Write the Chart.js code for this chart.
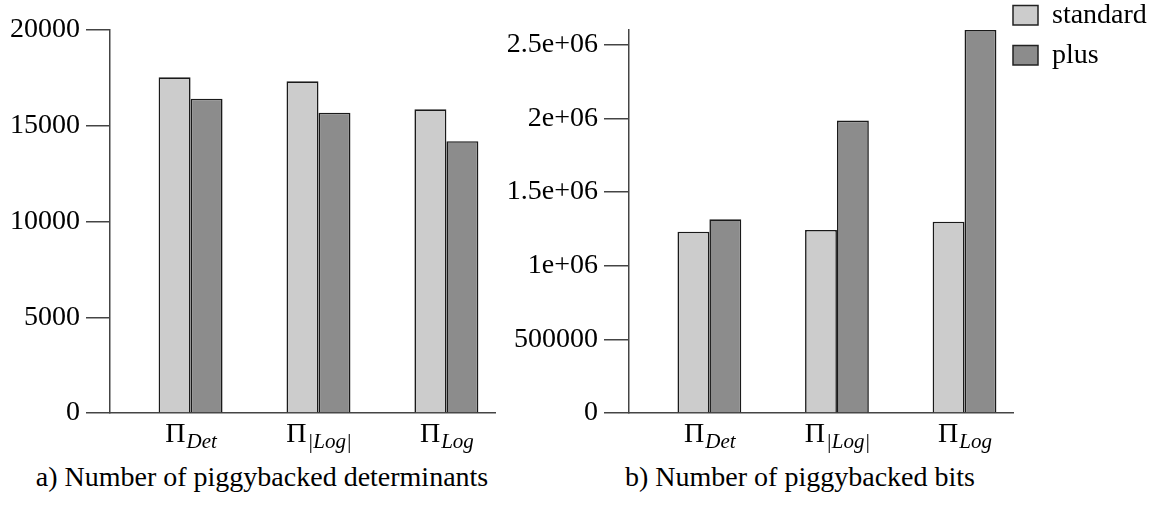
<!DOCTYPE html>
<html>
<head>
<meta charset="utf-8">
<script src="https://cdn.jsdelivr.net/npm/chart.js@4.4.0/dist/chart.umd.min.js"></script>
<style>
  body { margin: 0; background: #fff; width: 1176px; height: 507px; position: relative; overflow: hidden; font-family: 'Liberation Serif', 'DejaVu Serif', serif; }
  canvas { position: absolute; top: 0; }
  #detChart { left: 0; }
  #bitsChart { left: 470px; }
  .caption { position: absolute; top: 463px; font-size: 28px; line-height: 28px; text-align: center; color: #000; white-space: nowrap; }
</style>
</head>
<body>
<canvas id="detChart" width="560" height="460"></canvas>
<canvas id="bitsChart" width="706" height="460"></canvas>
<div class="caption" style="left:0;width:524px">a) Number of piggybacked determinants</div>
<div class="caption" style="left:600px;width:400px">b) Number of piggybacked bits</div>
<script>
// categories are Π with a subscript
const baseSymbol = 'Π';
const categories = ['Det', '|Log|', 'Log'];
const seriesNames = ['standard', 'plus'];

const detStandard = [17530, 17320, 15860];
const detPlus = [16410, 15680, 14190];
const detTicks = [0, 5000, 10000, 15000, 20000];
const detTickLabels = ['0', '5000', '10000', '15000', '20000'];

const bitsStandard = [1231000, 1243000, 1299000];
const bitsPlus = [1315000, 1985000, 2600000];
const bitsTicks = [0, 500000, 1000000, 1500000, 2000000, 2500000];
const bitsTickLabels = ['0', '500000', '1e+06', '1.5e+06', '2e+06', '2.5e+06'];

const FONT = "'Liberation Serif', 'DejaVu Serif', serif";
const AXIS = '#444';
const colors = ['#cccccc', '#8c8c8c'];

// draws Π_sub under each group
const subscriptLabels = {
  id: 'subscriptLabels',
  afterDraw(chart) {
    const { ctx } = chart;
    const xs = chart.scales.x;
    ctx.save();
    ctx.fillStyle = '#000';
    ctx.textAlign = 'left';
    ctx.textBaseline = 'alphabetic';
    categories.forEach((sub, i) => {
      const cx = xs.getPixelForValue(i + 1);
      ctx.font = '28px ' + FONT;
      const wb = ctx.measureText(baseSymbol).width;
      ctx.font = 'italic 21px ' + FONT;
      const ws = ctx.measureText(sub).width;
      const left = cx - (wb + ws) / 2;
      ctx.font = '28px ' + FONT;
      ctx.fillText(baseSymbol, left, xs.top + 29);
      ctx.font = 'italic 21px ' + FONT;
      ctx.fillText(sub, left + wb + 1, xs.top + 35);
    });
    ctx.restore();
  }
};

// legend boxes in the top right corner
const boxLegend = {
  id: 'boxLegend',
  afterDraw(chart) {
    const { ctx } = chart;
    ctx.save();
    chart.data.datasets.forEach((ds, i) => {
      const y = 5.5 + i * 40;
      ctx.fillStyle = ds.backgroundColor;
      ctx.fillRect(543, y, 25, 19.5);
      ctx.strokeStyle = '#222';
      ctx.lineWidth = 1.5;
      ctx.strokeRect(543, y, 25, 19.5);
      ctx.fillStyle = '#000';
      ctx.font = '28px ' + FONT;
      ctx.textBaseline = 'alphabetic';
      ctx.fillText(ds.label, 582, y + 17.5);
    });
    ctx.restore();
  }
};

function makeChart(id, standard, plus, yMax, ticks, tickLabels, axisWidth, tickLen, padRight, plugins) {
  const series = [standard, plus];
  return new Chart(document.getElementById(id), {
    type: 'bar',
    data: {
      datasets: series.map((vals, s) => ({
        label: seriesNames[s],
        data: vals.map((v, i) => ({ x: i + 1, y: v })),
        backgroundColor: colors[s],
        borderColor: '#1a1a1a',
        borderWidth: 1.6,
        categoryPercentage: 0.5,
        barPercentage: 1.0,
        clip: false,
      })),
    },
    options: {
      responsive: false,
      animation: false,
      layout: { padding: { top: 30, right: padRight, left: 0, bottom: 0 } },
      plugins: { legend: { display: false }, tooltip: { enabled: false } },
      scales: {
        x: {
          type: 'linear',
          min: 0.37,
          max: 3.38,
          offset: false,
          afterBuildTicks: (s) => { s.ticks = categories.map((_, i) => ({ value: i + 1 })); },
          afterFit: (s) => { s.height = 47; },
          ticks: { display: false },
          grid: { display: false, drawTicks: false },
          border: { color: AXIS, width: 1.5 },
        },
        y: {
          min: 0,
          max: yMax,
          afterBuildTicks: (s) => { s.ticks = ticks.map((v) => ({ value: v })); },
          afterFit: (s) => { s.width = axisWidth; },
          ticks: {
            color: '#000',
            font: { family: FONT, size: 28 },
            padding: 6,
            callback: (v, i) => tickLabels[i],
          },
          grid: { drawOnChartArea: false, tickLength: tickLen, color: AXIS, lineWidth: 1.5 },
          border: { color: AXIS, width: 1.5 },
        },
      },
    },
    plugins: plugins,
  });
}

makeChart('detChart', detStandard, detPlus, 20000, detTicks, detTickLabels, 110, 24, 65, [subscriptLabels]);
makeChart('bitsChart', bitsStandard, bitsPlus, 2600000, bitsTicks, bitsTickLabels, 159, 25, 163, [subscriptLabels, boxLegend]);
</script>
</body>
</html>
